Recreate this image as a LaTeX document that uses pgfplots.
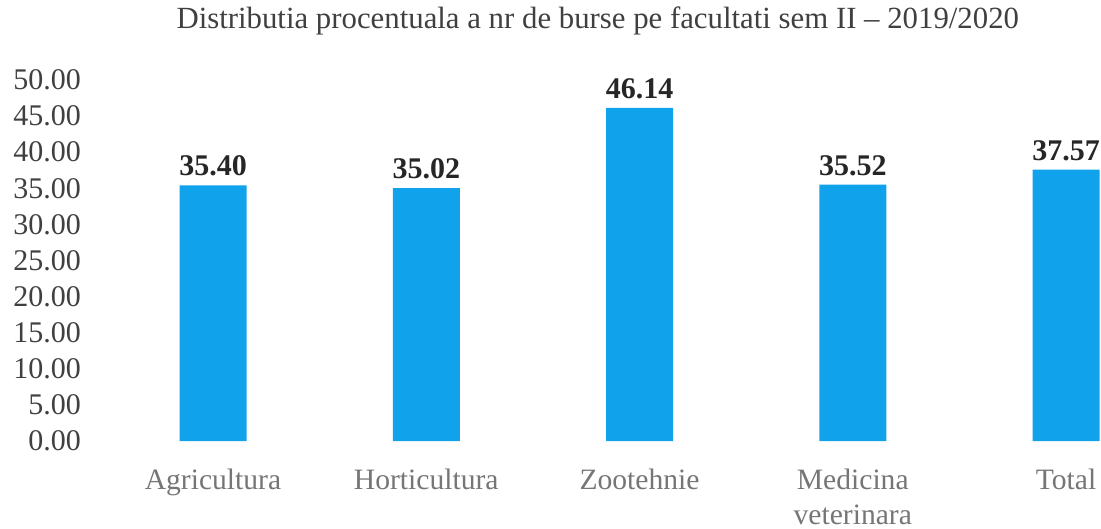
\documentclass[border=0pt]{standalone}
\usepackage{pgfplots}
\pgfplotsset{compat=1.18}
\usepackage{fontspec}
\setmainfont{Liberation Serif}
\definecolor{barBlue}{RGB}{16,162,234}
\definecolor{tickGray}{RGB}{64,64,64}
\definecolor{catGray}{RGB}{118,118,118}
\definecolor{valDark}{RGB}{38,38,38}

\begin{document}
\begin{tikzpicture}
    \useasboundingbox (0,0) rectangle (550.5pt,264.5pt);
    \begin{axis}[
        at={(44pt,44pt)}, anchor=south west,
        scale only axis,
        width=505.75pt, height=180.5pt,
        xmin=-0.5862, xmax=4.157,
        ymin=0, ymax=50,
        ytick={0,5,...,50},
        xtick=data,
        xticklabels={Agricultura, Horticultura, Zootehnie, Medicina\\veterinara, Total},
        axis line style={draw=none},
        major tick length=0pt,
        /pgf/number format/assume math mode=true,
        yticklabel style={font=\fontsize{15}{18}\selectfont, text=tickGray,
            /pgf/number format/fixed, /pgf/number format/fixed zerofill,
            /pgf/number format/precision=2},
        xticklabel style={font=\fontsize{14.8}{17.5}\selectfont, text=catGray,
            align=center, yshift=-10.5pt},
        title={Distributia procentuala a nr de burse pe facultati sem II -- 2019/2020},
        title style={font=\fontsize{15.4}{18}\selectfont, text=tickGray,
            at={(0.5,1)}, anchor=center, yshift=23.5pt, xshift=2pt},
        ybar, bar width=33.5pt,
        clip=false,
        nodes near coords={\pgfmathprintnumber[fixed,fixed zerofill,precision=2]{\pgfplotspointmeta}},
        nodes near coords style={font=\bfseries\fontsize{15}{18}\selectfont, text=valDark, yshift=1pt},
    ]
        \addplot[fill=barBlue, draw=none] coordinates {
            (0, 35.40)
            (1, 35.02)
            (2, 46.14)
            (3, 35.52)
            (4, 37.57)
        };
    \end{axis}
\end{tikzpicture}
\end{document}
